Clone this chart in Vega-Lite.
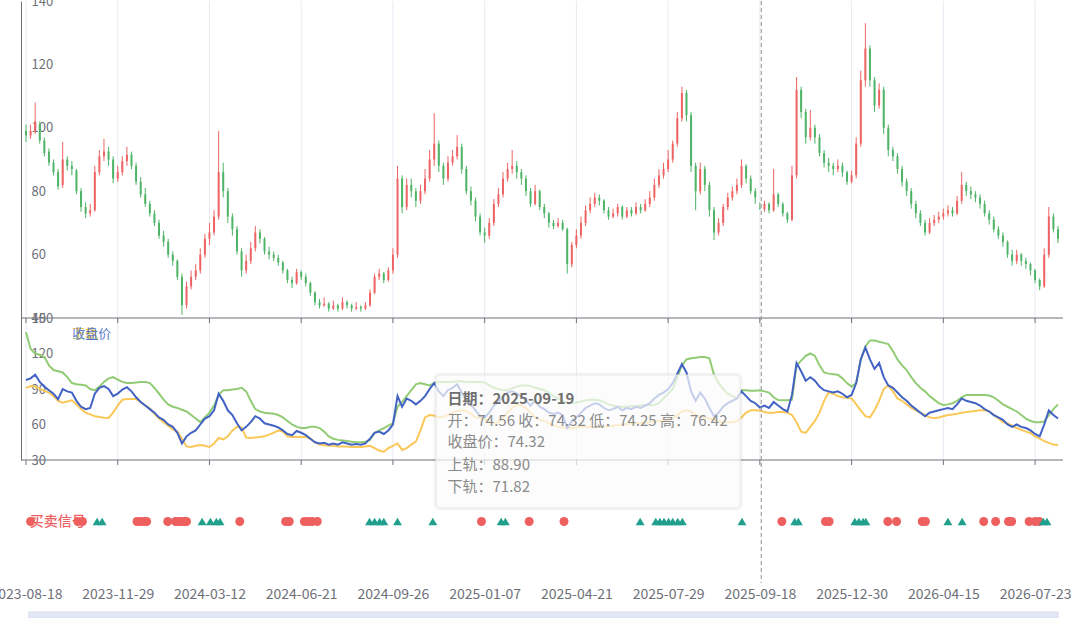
{
  "$schema": "https://vega.github.io/schema/vega-lite/v6.json",
  "description": "K线 + 通道 + 买卖信号",
  "autosize": {"type": "none"},
  "padding": {"left": 21, "top": 1, "right": 17, "bottom": 0},
  "width": 1042,
  "height": 617,
  "background": "white",
  "config": {
    "view": {"stroke": null},
    "font": "Noto Sans CJK SC",
    "axis": {
      "labelFont": "Noto Sans CJK SC",
      "labelFontSize": 13,
      "labelColor": "#6e7079",
      "domainColor": "#6e7079",
      "tickColor": "#6e7079",
      "title": null
    }
  },
  "datasets": {
    "ticks": [{"i":0},{"i":20},{"i":40},{"i":60},{"i":80},{"i":100},{"i":120},{"i":140},{"i":160},{"i":180},{"i":200},{"i":220}],
    "k": [
      {"i":0,"o":99,"h":101,"l":95.5,"c":97.6,"up":138,"dn":91},
      {"i":1,"o":97.6,"h":101,"l":96.5,"c":99,"up":124,"dn":92.5},
      {"i":2,"o":99,"h":108,"l":98,"c":102,"up":120,"dn":92},
      {"i":3,"o":101,"h":102,"l":95,"c":96,"up":119,"dn":90},
      {"i":4,"o":96,"h":97,"l":91,"c":92,"up":117,"dn":88.5},
      {"i":5,"o":92.5,"h":93.5,"l":88,"c":89,"up":110,"dn":87},
      {"i":6,"o":89,"h":90,"l":85,"c":86,"up":106,"dn":84},
      {"i":7,"o":86,"h":87,"l":80.5,"c":81.5,"up":105,"dn":80},
      {"i":8,"o":82,"h":95.5,"l":81,"c":90,"up":104,"dn":78.5},
      {"i":9,"o":90,"h":91,"l":86.5,"c":88,"up":100,"dn":79.5},
      {"i":10,"o":88,"h":89.5,"l":85,"c":87,"up":95,"dn":80.5},
      {"i":11,"o":86.5,"h":87,"l":79,"c":80,"up":94,"dn":77},
      {"i":12,"o":80,"h":81,"l":73.5,"c":75,"up":93.5,"dn":73},
      {"i":13,"o":75,"h":76.5,"l":71.5,"c":73,"up":93,"dn":70},
      {"i":14,"o":73,"h":76,"l":72,"c":74,"up":90,"dn":68.5},
      {"i":15,"o":74,"h":88,"l":73.5,"c":86,"up":89,"dn":67},
      {"i":16,"o":86,"h":93,"l":85,"c":91,"up":92,"dn":66.3},
      {"i":17,"o":91,"h":96.5,"l":89.5,"c":92.5,"up":96,"dn":65.8},
      {"i":18,"o":92.5,"h":94,"l":88,"c":90,"up":99,"dn":65.5},
      {"i":19,"o":90,"h":91,"l":82.5,"c":84,"up":100,"dn":70},
      {"i":20,"o":84,"h":88,"l":83,"c":86,"up":98,"dn":76},
      {"i":21,"o":86,"h":91,"l":85,"c":89.5,"up":96,"dn":81},
      {"i":22,"o":89.5,"h":94,"l":88,"c":91.5,"up":95,"dn":81.5},
      {"i":23,"o":91.5,"h":92.5,"l":87,"c":88,"up":95,"dn":81.5},
      {"i":24,"o":88,"h":89,"l":82,"c":83,"up":95.5,"dn":81.5},
      {"i":25,"o":83,"h":84.5,"l":78,"c":79,"up":96,"dn":79},
      {"i":26,"o":79,"h":81,"l":75,"c":76,"up":96,"dn":76},
      {"i":27,"o":76,"h":77,"l":72,"c":73,"up":95,"dn":73.5},
      {"i":28,"o":73,"h":74,"l":69,"c":70,"up":91,"dn":69},
      {"i":29,"o":70,"h":71,"l":65,"c":66,"up":86,"dn":65},
      {"i":30,"o":66,"h":67.5,"l":62.5,"c":64,"up":81,"dn":62},
      {"i":31,"o":64,"h":65,"l":59,"c":60,"up":77,"dn":59},
      {"i":32,"o":60,"h":61,"l":56.5,"c":58,"up":75,"dn":56},
      {"i":33,"o":58,"h":58.5,"l":52,"c":53,"up":74,"dn":54},
      {"i":34,"o":53,"h":54,"l":41,"c":44,"up":72.5,"dn":48},
      {"i":35,"o":44,"h":51.5,"l":43,"c":50,"up":71,"dn":41.5},
      {"i":36,"o":50,"h":55,"l":49,"c":53,"up":68,"dn":41},
      {"i":37,"o":53,"h":57,"l":52,"c":55,"up":65,"dn":42},
      {"i":38,"o":55,"h":62,"l":54,"c":60,"up":62,"dn":42.7},
      {"i":39,"o":60,"h":66.5,"l":59,"c":65,"up":66,"dn":42},
      {"i":40,"o":65,"h":70,"l":63,"c":67,"up":70,"dn":41},
      {"i":41,"o":67,"h":74,"l":66,"c":72,"up":76,"dn":44},
      {"i":42,"o":72,"h":99,"l":71,"c":86,"up":85,"dn":48.6},
      {"i":43,"o":86,"h":89,"l":78,"c":80,"up":89,"dn":47.5},
      {"i":44,"o":80,"h":81,"l":70,"c":72,"up":89,"dn":50},
      {"i":45,"o":72,"h":73,"l":66,"c":68,"up":89.5,"dn":55},
      {"i":46,"o":68,"h":69,"l":60,"c":61,"up":90,"dn":58},
      {"i":47,"o":61,"h":62,"l":53,"c":55,"up":91,"dn":57.5},
      {"i":48,"o":55,"h":60,"l":54,"c":58,"up":88,"dn":49},
      {"i":49,"o":58,"h":64,"l":57,"c":62,"up":80,"dn":48.5},
      {"i":50,"o":62,"h":69,"l":61,"c":67,"up":73,"dn":49},
      {"i":51,"o":67,"h":68,"l":63.5,"c":65,"up":71,"dn":49.5},
      {"i":52,"o":65,"h":65.5,"l":60,"c":61,"up":70,"dn":50},
      {"i":53,"o":61,"h":62.5,"l":58.5,"c":60,"up":69.5,"dn":51.5},
      {"i":54,"o":60,"h":61,"l":58,"c":59,"up":69,"dn":53},
      {"i":55,"o":59,"h":60,"l":56.5,"c":57.5,"up":68,"dn":55},
      {"i":56,"o":57.5,"h":58,"l":54,"c":55,"up":66,"dn":54},
      {"i":57,"o":55,"h":55.5,"l":51,"c":52,"up":63,"dn":50},
      {"i":58,"o":52,"h":53,"l":49.5,"c":51,"up":60,"dn":49.5},
      {"i":59,"o":51,"h":55.5,"l":50.5,"c":54.5,"up":58,"dn":49.5},
      {"i":60,"o":54.5,"h":55,"l":52,"c":53,"up":57,"dn":49.5},
      {"i":61,"o":53,"h":54,"l":50,"c":51,"up":57,"dn":49.5},
      {"i":62,"o":51,"h":51.5,"l":47,"c":48,"up":58,"dn":48},
      {"i":63,"o":48,"h":48.5,"l":44,"c":45,"up":58,"dn":45},
      {"i":64,"o":45,"h":46,"l":43,"c":44,"up":57,"dn":43},
      {"i":65,"o":44,"h":46.5,"l":43.5,"c":44.5,"up":54,"dn":42.5},
      {"i":66,"o":44.5,"h":45,"l":42,"c":43,"up":50,"dn":42},
      {"i":67,"o":43,"h":45.5,"l":42.5,"c":44,"up":48,"dn":42},
      {"i":68,"o":44,"h":44.5,"l":42,"c":43,"up":47,"dn":41.5},
      {"i":69,"o":43,"h":46.5,"l":42.5,"c":45,"up":46.5,"dn":41.5},
      {"i":70,"o":45,"h":45.5,"l":43,"c":44,"up":46,"dn":41.5},
      {"i":71,"o":44,"h":44.5,"l":42,"c":43,"up":45.5,"dn":41},
      {"i":72,"o":43,"h":45,"l":42.5,"c":43.5,"up":45,"dn":41},
      {"i":73,"o":43.5,"h":44,"l":42,"c":43,"up":45,"dn":41},
      {"i":74,"o":43,"h":45,"l":42.5,"c":44,"up":45.5,"dn":41.5},
      {"i":75,"o":44,"h":49,"l":43.5,"c":48,"up":47,"dn":42},
      {"i":76,"o":48,"h":54,"l":47.5,"c":53,"up":53,"dn":40},
      {"i":77,"o":53,"h":55.5,"l":52,"c":54,"up":55,"dn":38},
      {"i":78,"o":54,"h":54.5,"l":51,"c":52,"up":57,"dn":37},
      {"i":79,"o":52,"h":56,"l":51.5,"c":55,"up":59,"dn":40},
      {"i":80,"o":55,"h":62,"l":54,"c":60,"up":61,"dn":42},
      {"i":81,"o":60,"h":88,"l":59,"c":84,"up":75,"dn":44},
      {"i":82,"o":84,"h":85,"l":73,"c":75,"up":79,"dn":38.5},
      {"i":83,"o":75,"h":84,"l":74,"c":82,"up":84,"dn":40},
      {"i":84,"o":82,"h":84,"l":78,"c":80,"up":89,"dn":43},
      {"i":85,"o":80,"h":81,"l":75,"c":77,"up":94,"dn":45.5},
      {"i":86,"o":77,"h":82,"l":76,"c":80,"up":95,"dn":55},
      {"i":87,"o":80,"h":87,"l":79,"c":84,"up":94,"dn":66},
      {"i":88,"o":84,"h":93,"l":83,"c":90,"up":93,"dn":68},
      {"i":89,"o":90,"h":104.6,"l":88,"c":95,"up":95,"dn":67.5},
      {"i":90,"o":95,"h":96,"l":86,"c":88,"up":96,"dn":66},
      {"i":91,"o":88,"h":89,"l":82,"c":84,"up":96,"dn":66.5},
      {"i":92,"o":84,"h":91,"l":83,"c":89,"up":96,"dn":68},
      {"i":93,"o":89,"h":93,"l":88,"c":91,"up":96,"dn":70},
      {"i":94,"o":91,"h":97.7,"l":90,"c":94,"up":96.5,"dn":71.5},
      {"i":95,"o":94,"h":95,"l":85.5,"c":87,"up":96.5,"dn":72},
      {"i":96,"o":87,"h":88,"l":79,"c":80,"up":96,"dn":71.5},
      {"i":97,"o":80,"h":81.5,"l":75.5,"c":77,"up":96,"dn":69},
      {"i":98,"o":77,"h":78,"l":70.5,"c":72,"up":96,"dn":66},
      {"i":99,"o":72,"h":73,"l":66,"c":67,"up":96,"dn":65.5},
      {"i":100,"o":67,"h":68.5,"l":63.7,"c":66,"up":95.5,"dn":64},
      {"i":101,"o":66,"h":71.5,"l":65,"c":70,"up":93,"dn":62.5},
      {"i":102,"o":70,"h":77.5,"l":69,"c":76,"up":91,"dn":61},
      {"i":103,"o":76,"h":81,"l":75,"c":79,"up":90,"dn":62},
      {"i":104,"o":79,"h":86,"l":78,"c":84,"up":89,"dn":66},
      {"i":105,"o":84,"h":89,"l":83,"c":87,"up":89,"dn":70},
      {"i":106,"o":87,"h":93,"l":85.5,"c":88,"up":90.5,"dn":74},
      {"i":107,"o":88,"h":89.5,"l":84,"c":86,"up":92,"dn":76.5},
      {"i":108,"o":86,"h":87,"l":82,"c":84,"up":93,"dn":76},
      {"i":109,"o":84,"h":85,"l":78.5,"c":80,"up":93,"dn":74},
      {"i":110,"o":80,"h":81,"l":75,"c":76,"up":92.5,"dn":70},
      {"i":111,"o":76,"h":82,"l":75.5,"c":80,"up":91,"dn":66},
      {"i":112,"o":80,"h":80.5,"l":74,"c":75,"up":90,"dn":64},
      {"i":113,"o":75,"h":76,"l":71.5,"c":73,"up":89,"dn":63},
      {"i":114,"o":73,"h":73.5,"l":68.5,"c":70,"up":87,"dn":61},
      {"i":115,"o":70,"h":71,"l":68,"c":69,"up":84,"dn":59.5},
      {"i":116,"o":69,"h":71.5,"l":68.5,"c":70,"up":82,"dn":58},
      {"i":117,"o":70,"h":71,"l":67.5,"c":68,"up":80,"dn":57.5},
      {"i":118,"o":68,"h":68.5,"l":54,"c":57,"up":78,"dn":57},
      {"i":119,"o":57,"h":64,"l":56,"c":63,"up":78,"dn":57},
      {"i":120,"o":63,"h":68,"l":62,"c":66,"up":78.5,"dn":57.5},
      {"i":121,"o":66,"h":72,"l":65,"c":70,"up":79.5,"dn":58},
      {"i":122,"o":70,"h":75.5,"l":69,"c":74,"up":80.5,"dn":58},
      {"i":123,"o":74,"h":78,"l":73,"c":76,"up":81,"dn":58},
      {"i":124,"o":76,"h":79.5,"l":75,"c":78,"up":81,"dn":58},
      {"i":125,"o":78,"h":79,"l":75.5,"c":77,"up":80.5,"dn":58},
      {"i":126,"o":77,"h":77.5,"l":73,"c":74,"up":79,"dn":58},
      {"i":127,"o":74,"h":75,"l":71,"c":72,"up":77,"dn":58.5},
      {"i":128,"o":72,"h":74.5,"l":71.5,"c":73,"up":76,"dn":59},
      {"i":129,"o":73,"h":76,"l":72,"c":75,"up":75,"dn":59.5},
      {"i":130,"o":75,"h":75.5,"l":71,"c":72,"up":75,"dn":60},
      {"i":131,"o":72,"h":75,"l":71.5,"c":74,"up":75,"dn":60.5},
      {"i":132,"o":74,"h":75,"l":72,"c":73,"up":75.5,"dn":61},
      {"i":133,"o":73,"h":76.5,"l":72.5,"c":75,"up":75.5,"dn":61},
      {"i":134,"o":75,"h":76,"l":73,"c":74,"up":76,"dn":61},
      {"i":135,"o":74,"h":77.5,"l":73.5,"c":76,"up":76.5,"dn":61.5},
      {"i":136,"o":76,"h":80,"l":75,"c":78,"up":76.5,"dn":62},
      {"i":137,"o":78,"h":84,"l":77,"c":82,"up":76.5,"dn":62.5},
      {"i":138,"o":82,"h":87,"l":81,"c":85,"up":78,"dn":63},
      {"i":139,"o":85,"h":89,"l":84,"c":87,"up":82,"dn":63.5},
      {"i":140,"o":87,"h":93,"l":86,"c":90,"up":86,"dn":64},
      {"i":141,"o":90,"h":96,"l":89,"c":95,"up":90,"dn":65},
      {"i":142,"o":95,"h":105,"l":94,"c":103,"up":100,"dn":68},
      {"i":143,"o":103,"h":113,"l":102,"c":111,"up":110,"dn":71},
      {"i":144,"o":111,"h":112,"l":102,"c":104,"up":115,"dn":72},
      {"i":145,"o":104,"h":105,"l":86,"c":88,"up":116,"dn":71},
      {"i":146,"o":88,"h":89,"l":74,"c":80,"up":116.5,"dn":68},
      {"i":147,"o":80,"h":89,"l":79,"c":87,"up":117,"dn":66.5},
      {"i":148,"o":87,"h":88,"l":80,"c":82,"up":117,"dn":65.5},
      {"i":149,"o":82,"h":83,"l":72,"c":74,"up":116,"dn":65},
      {"i":150,"o":74,"h":75,"l":64.6,"c":67,"up":102,"dn":64},
      {"i":151,"o":67,"h":71.5,"l":66,"c":70,"up":95,"dn":63},
      {"i":152,"o":70,"h":76,"l":69,"c":75,"up":90,"dn":62},
      {"i":153,"o":75,"h":79.5,"l":74,"c":78,"up":86,"dn":62},
      {"i":154,"o":78,"h":81.5,"l":77,"c":80,"up":84,"dn":62},
      {"i":155,"o":80,"h":84,"l":79,"c":82,"up":82,"dn":63},
      {"i":156,"o":82,"h":90,"l":81,"c":88,"up":89,"dn":66},
      {"i":157,"o":88,"h":88.5,"l":82.5,"c":84,"up":89,"dn":70},
      {"i":158,"o":84,"h":85,"l":79,"c":80,"up":88.5,"dn":72},
      {"i":159,"o":80,"h":81,"l":76,"c":78,"up":88.5,"dn":72},
      {"i":160,"o":74.56,"h":76.42,"l":74.25,"c":74.32,"up":88.9,"dn":71.82},
      {"i":161,"o":74.3,"h":77,"l":73.5,"c":76,"up":88,"dn":70.5},
      {"i":162,"o":76,"h":76.5,"l":73,"c":74,"up":87,"dn":70},
      {"i":163,"o":74,"h":87,"l":73.5,"c":79,"up":83,"dn":70},
      {"i":164,"o":79,"h":79.5,"l":75,"c":76,"up":80.7,"dn":70.5},
      {"i":165,"o":76,"h":76.5,"l":72,"c":73,"up":80.5,"dn":70.5},
      {"i":166,"o":73,"h":73.5,"l":70,"c":71,"up":80.5,"dn":70},
      {"i":167,"o":71,"h":88,"l":70.5,"c":85,"up":81,"dn":68},
      {"i":168,"o":85,"h":116,"l":84,"c":112,"up":110,"dn":62},
      {"i":169,"o":112,"h":113,"l":103,"c":105,"up":114,"dn":54},
      {"i":170,"o":105,"h":106,"l":95,"c":97,"up":118,"dn":53},
      {"i":171,"o":97,"h":105.6,"l":96,"c":100,"up":120,"dn":58},
      {"i":172,"o":100,"h":101,"l":95,"c":97,"up":118,"dn":63},
      {"i":173,"o":97,"h":98,"l":91,"c":92,"up":110,"dn":70},
      {"i":174,"o":92,"h":93,"l":87.5,"c":89,"up":104,"dn":80},
      {"i":175,"o":89,"h":90.5,"l":86,"c":88,"up":103,"dn":87.5},
      {"i":176,"o":88,"h":89,"l":85,"c":87,"up":102.5,"dn":86},
      {"i":177,"o":87,"h":90,"l":86,"c":88,"up":102,"dn":84},
      {"i":178,"o":88,"h":89,"l":84.5,"c":86,"up":99,"dn":83},
      {"i":179,"o":86,"h":86.5,"l":82,"c":83,"up":95,"dn":82.5},
      {"i":180,"o":83,"h":86.5,"l":82.5,"c":85,"up":92,"dn":82},
      {"i":181,"o":85,"h":97,"l":84,"c":95,"up":95,"dn":77},
      {"i":182,"o":95,"h":118,"l":94,"c":115,"up":115,"dn":72},
      {"i":183,"o":115,"h":133,"l":113,"c":125,"up":126,"dn":67},
      {"i":184,"o":125,"h":126,"l":113,"c":115,"up":131,"dn":66},
      {"i":185,"o":115,"h":116,"l":105,"c":107,"up":131,"dn":72},
      {"i":186,"o":107,"h":114,"l":106,"c":112,"up":130,"dn":80},
      {"i":187,"o":112,"h":113,"l":98,"c":100,"up":129,"dn":90},
      {"i":188,"o":100,"h":101,"l":91,"c":93,"up":128,"dn":93},
      {"i":189,"o":93,"h":94,"l":89.5,"c":91,"up":122,"dn":88},
      {"i":190,"o":91,"h":92,"l":85.5,"c":87,"up":115,"dn":82},
      {"i":191,"o":87,"h":88,"l":81.5,"c":83,"up":110,"dn":80},
      {"i":192,"o":83,"h":84,"l":78.5,"c":80,"up":106,"dn":77},
      {"i":193,"o":80,"h":81,"l":74.5,"c":76,"up":100,"dn":74},
      {"i":194,"o":76,"h":77,"l":71.5,"c":73,"up":95,"dn":72},
      {"i":195,"o":73,"h":74,"l":69,"c":70,"up":91,"dn":70},
      {"i":196,"o":70,"h":71,"l":66,"c":67,"up":88,"dn":68},
      {"i":197,"o":67,"h":71.5,"l":66.5,"c":70,"up":84,"dn":66},
      {"i":198,"o":70,"h":72.5,"l":69,"c":71,"up":81,"dn":65.5},
      {"i":199,"o":71,"h":73.5,"l":70,"c":72,"up":78,"dn":66},
      {"i":200,"o":72,"h":74.5,"l":71,"c":73,"up":76.5,"dn":67},
      {"i":201,"o":73,"h":75.5,"l":72,"c":74,"up":77,"dn":68},
      {"i":202,"o":74,"h":75,"l":72,"c":73,"up":78,"dn":68.5},
      {"i":203,"o":73,"h":78.5,"l":72.5,"c":77,"up":80,"dn":69},
      {"i":204,"o":77,"h":86,"l":76,"c":82,"up":83,"dn":70},
      {"i":205,"o":82,"h":83,"l":78.5,"c":80,"up":85,"dn":70.5},
      {"i":206,"o":80,"h":81.5,"l":77.5,"c":79,"up":85,"dn":71},
      {"i":207,"o":79,"h":80,"l":76.5,"c":78,"up":85,"dn":71.5},
      {"i":208,"o":78,"h":79,"l":74.5,"c":76,"up":85,"dn":72},
      {"i":209,"o":76,"h":77,"l":72,"c":73,"up":85,"dn":72},
      {"i":210,"o":73,"h":74,"l":69.5,"c":71,"up":84.5,"dn":71},
      {"i":211,"o":71,"h":72,"l":67,"c":68,"up":83,"dn":68},
      {"i":212,"o":68,"h":69,"l":65,"c":66,"up":80,"dn":65},
      {"i":213,"o":66,"h":67,"l":62.5,"c":64,"up":77,"dn":62},
      {"i":214,"o":64,"h":64.5,"l":59,"c":60,"up":75,"dn":61},
      {"i":215,"o":60,"h":61.5,"l":56.5,"c":58,"up":73,"dn":59},
      {"i":216,"o":58,"h":61.5,"l":57,"c":60,"up":71,"dn":57},
      {"i":217,"o":60,"h":60.5,"l":56.5,"c":58,"up":68,"dn":55.5},
      {"i":218,"o":58,"h":59,"l":55.5,"c":57,"up":65,"dn":54},
      {"i":219,"o":57,"h":57.5,"l":53.5,"c":55,"up":63,"dn":52.8},
      {"i":220,"o":55,"h":55.5,"l":51,"c":52,"up":62,"dn":50},
      {"i":221,"o":52,"h":52.5,"l":48.8,"c":50,"up":62,"dn":48},
      {"i":222,"o":50,"h":62,"l":49.5,"c":60,"up":62.5,"dn":46},
      {"i":223,"o":60,"h":75,"l":59,"c":72,"up":68,"dn":44.5},
      {"i":224,"o":72,"h":73,"l":67,"c":68,"up":73,"dn":43},
      {"i":225,"o":68,"h":69,"l":63.6,"c":65,"up":77,"dn":42.7}
    ],
    "sig": [
      {"i":11.3,"s":"卖"},{"i":12.3,"s":"卖"},
      {"i":15.5,"s":"买"},{"i":16.6,"s":"买"},
      {"i":24.2,"s":"卖"},{"i":25.0,"s":"卖"},{"i":25.7,"s":"卖"},{"i":26.3,"s":"卖"},
      {"i":30.9,"s":"卖"},
      {"i":32.6,"s":"卖"},{"i":33.3,"s":"卖"},{"i":33.9,"s":"卖"},{"i":34.5,"s":"卖"},{"i":35.0,"s":"卖"},
      {"i":38.4,"s":"买"},{"i":40.2,"s":"买"},{"i":41.5,"s":"买"},{"i":42.3,"s":"买"},
      {"i":46.6,"s":"卖"},
      {"i":56.6,"s":"卖"},{"i":57.4,"s":"卖"},
      {"i":60.7,"s":"卖"},{"i":61.5,"s":"卖"},{"i":62.4,"s":"卖"},{"i":63.5,"s":"卖"},
      {"i":74.9,"s":"买"},{"i":76.0,"s":"买"},{"i":77.1,"s":"买"},{"i":78.0,"s":"买"},
      {"i":81.0,"s":"买"},
      {"i":88.7,"s":"买"},
      {"i":99.3,"s":"卖"},
      {"i":103.6,"s":"买"},{"i":104.5,"s":"买"},
      {"i":109.7,"s":"卖"},
      {"i":117.3,"s":"卖"},
      {"i":133.9,"s":"买"},
      {"i":137.3,"s":"买"},{"i":138.2,"s":"买"},{"i":139.1,"s":"买"},{"i":140.1,"s":"买"},{"i":141.0,"s":"买"},{"i":142.1,"s":"买"},{"i":143.1,"s":"买"},
      {"i":156.1,"s":"买"},
      {"i":164.8,"s":"卖"},
      {"i":167.6,"s":"买"},{"i":168.4,"s":"买"},
      {"i":174.3,"s":"卖"},{"i":175.1,"s":"卖"},
      {"i":180.7,"s":"买"},{"i":181.6,"s":"买"},{"i":182.5,"s":"买"},{"i":183.1,"s":"买"},
      {"i":187.9,"s":"卖"},{"i":189.8,"s":"卖"},
      {"i":195.4,"s":"卖"},{"i":196.1,"s":"卖"},
      {"i":201.0,"s":"买"},
      {"i":204.1,"s":"买"},
      {"i":208.8,"s":"卖"},{"i":211.4,"s":"卖"},
      {"i":214.2,"s":"卖"},{"i":214.9,"s":"卖"},
      {"i":218.7,"s":"卖"},{"i":220.0,"s":"卖"},{"i":220.9,"s":"卖"},
      {"i":221.8,"s":"买"},{"i":222.6,"s":"买"}
    ]
  },
  "resolve": {"scale": {"y": "independent", "color": "independent", "shape": "independent"}},
  "layer": [
    {
      "data": {"name": "ticks"},
      "mark": {"type": "rule", "color": "#e6eaf2", "strokeWidth": 1},
      "encoding": {
        "x": {"field": "i", "type": "quantitative", "title": null,
          "scale": {"domain": [0, 225], "nice": false, "zero": false},
          "axis": {"values": [0,20,40,60,80,100,120,140,160,180,200,220],
            "labelExpr": "['2023-08-18','2023-11-29','2024-03-12','2024-06-21','2024-09-26','2025-01-07','2025-04-21','2025-07-29','2025-09-18','2025-12-30','2026-04-15','2026-07-23'][round(datum.value / 20)]",
            "orient": "bottom", "offset": -35, "domain": false, "ticks": false, "tickSize": 0, "grid": false,
            "labelFontSize": 14, "labelPadding": 4, "labelFlush": false, "labelOverlap": false, "labelBound": false, "title": null}},
        "y": {"datum": 40, "type": "quantitative", "title": null, "axis": null,
          "scale": {"domain": [40, 140], "range": [317, 0], "nice": false, "zero": false}},
        "y2": {"datum": 140}
      }
    },
    {
      "data": {"name": "ticks"},
      "mark": {"type": "rule", "color": "#e6eaf2", "strokeWidth": 1},
      "encoding": {
        "x": {"field": "i", "type": "quantitative", "title": null},
        "y": {"datum": 30, "type": "quantitative", "title": null, "axis": null,
          "scale": {"domain": [30, 150], "range": [459, 317], "nice": false, "zero": false}},
        "y2": {"datum": 150}
      }
    },
    {
      "data": {"name": "k"},
      "mark": {"type": "rule", "strokeWidth": 1},
      "encoding": {
        "x": {"field": "i", "type": "quantitative", "title": null},
        "y": {"field": "l", "type": "quantitative", "title": null,
          "scale": {"domain": [40, 140], "range": [317, 0], "nice": false, "zero": false},
          "axis": {"orient": "left", "values": [40,60,80,100,120,140], "labelAlign": "left", "labelBaseline": "middle", "labelPadding": -10, "ticks": false, "tickSize": 0, "grid": false, "domain": true, "title": null}},
        "y2": {"field": "h"},
        "color": {"condition": {"test": "datum.c >= datum.o", "value": "#ee6464"}, "value": "#4fb467"}
      }
    },
    {
      "data": {"name": "k"},
      "mark": {"type": "bar", "size": 2},
      "encoding": {
        "x": {"field": "i", "type": "quantitative", "title": null},
        "y": {"field": "o", "type": "quantitative", "title": null, "axis": null,
          "scale": {"domain": [40, 140], "range": [317, 0], "nice": false, "zero": false}},
        "y2": {"field": "c"},
        "color": {"condition": {"test": "datum.c >= datum.o", "value": "#ee6464"}, "value": "#4fb467"}
      }
    },
    {
      "data": {"name": "ticks"},
      "mark": {"type": "rule", "color": "#6e7079", "strokeWidth": 1},
      "encoding": {
        "x": {"field": "i", "type": "quantitative", "title": null},
        "y": {"datum": 40, "type": "quantitative", "title": null, "axis": null,
          "scale": {"domain": [40, 140], "range": [317, 0], "nice": false, "zero": false}},
        "y2": {"datum": 38.4}
      }
    },
    {
      "data": {"values": [{"v": 40}]},
      "mark": {"type": "rule", "color": "#6e7079", "strokeWidth": 1},
      "encoding": {
        "y": {"field": "v", "type": "quantitative", "title": null, "axis": null,
          "scale": {"domain": [40, 140], "range": [317, 0], "nice": false, "zero": false}}
      }
    },
    {
      "data": {"name": "ticks"},
      "mark": {"type": "rule", "color": "#6e7079", "strokeWidth": 1},
      "encoding": {
        "x": {"field": "i", "type": "quantitative", "title": null},
        "y": {"datum": 30, "type": "quantitative", "title": null, "axis": null,
          "scale": {"domain": [30, 150], "range": [459, 317], "nice": false, "zero": false}},
        "y2": {"datum": 25.8}
      }
    },
    {
      "data": {"values": [{"v": 30}]},
      "mark": {"type": "rule", "color": "#6e7079", "strokeWidth": 1},
      "encoding": {
        "y": {"field": "v", "type": "quantitative", "title": null, "axis": null,
          "scale": {"domain": [30, 150], "range": [459, 317], "nice": false, "zero": false}}
      }
    },
    {
      "data": {"name": "k"},
      "mark": {"type": "line", "color": "#91cc75", "strokeWidth": 2},
      "encoding": {
        "x": {"field": "i", "type": "quantitative", "title": null},
        "y": {"field": "up", "type": "quantitative", "title": null,
          "scale": {"domain": [30, 150], "range": [459, 317], "nice": false, "zero": false},
          "axis": {"orient": "left", "values": [30,60,90,120,150], "labelAlign": "left", "labelBaseline": "middle", "labelPadding": -10, "ticks": false, "tickSize": 0, "grid": false, "domain": true, "title": null}}
      }
    },
    {
      "data": {"name": "k"},
      "mark": {"type": "line", "color": "#fac858", "strokeWidth": 2},
      "encoding": {
        "x": {"field": "i", "type": "quantitative", "title": null},
        "y": {"field": "dn", "type": "quantitative", "title": null, "axis": null,
          "scale": {"domain": [30, 150], "range": [459, 317], "nice": false, "zero": false}}
      }
    },
    {
      "data": {"name": "k"},
      "mark": {"type": "line", "color": "#4262c4", "strokeWidth": 2},
      "encoding": {
        "x": {"field": "i", "type": "quantitative", "title": null},
        "y": {"field": "c", "type": "quantitative", "title": null, "axis": null,
          "scale": {"domain": [30, 150], "range": [459, 317], "nice": false, "zero": false}}
      }
    },
    {
      "data": {"values": [
        {"i": 10.1, "v": 136.5, "t": "上轨", "g": "上轨"},
        {"i": 10.1, "v": 136.5, "t": "下轨", "g": "下轨"},
        {"i": 10.1, "v": 136.5, "t": "收盘价", "g": "收盘价"}
      ]},
      "mark": {"type": "text", "align": "left", "baseline": "middle", "fontSize": 13, "opacity": 0.85},
      "encoding": {
        "x": {"field": "i", "type": "quantitative", "title": null},
        "y": {"field": "v", "type": "quantitative", "title": null, "axis": null,
          "scale": {"domain": [30, 150], "range": [459, 317], "nice": false, "zero": false}},
        "text": {"field": "t"},
        "color": {"field": "g", "type": "nominal", "legend": null,
          "scale": {"domain": ["收盘价", "上轨", "下轨"], "range": ["#4262c4", "#91cc75", "#f2bd3c"]}}
      }
    },
    {
      "data": {"values": [{"i": 160.3}]},
      "mark": {"type": "rule", "color": "#8f8f8f", "strokeDash": [4, 3], "strokeWidth": 1},
      "encoding": {
        "x": {"field": "i", "type": "quantitative", "title": null},
        "y": {"datum": 140, "type": "quantitative", "title": null, "axis": null,
          "scale": {"domain": [40, 140], "range": [317, 0], "nice": false, "zero": false}},
        "y2": {"datum": -43.6}
      }
    },
    {
      "data": {"values": [{"i": 88.8, "i2": 156.3, "v": 103.8, "v2": -12.5}]},
      "mark": {"type": "rect", "fill": "#000000", "opacity": 0.045, "cornerRadius": 7},
      "encoding": {
        "x": {"field": "i", "type": "quantitative", "title": null},
        "x2": {"field": "i2"},
        "y": {"field": "v", "type": "quantitative", "title": null, "axis": null,
          "scale": {"domain": [30, 150], "range": [459, 317], "nice": false, "zero": false}},
        "y2": {"field": "v2"}
      }
    },
    {
      "data": {"values": [{"i": 89.4, "i2": 155.7, "v": 101.8, "v2": -10.6}]},
      "mark": {"type": "rect", "fill": "#ffffff", "fillOpacity": 0.7, "stroke": "#e8e8e8", "strokeWidth": 1, "cornerRadius": 4},
      "encoding": {
        "x": {"field": "i", "type": "quantitative", "title": null},
        "x2": {"field": "i2"},
        "y": {"field": "v", "type": "quantitative", "title": null, "axis": null,
          "scale": {"domain": [30, 150], "range": [459, 317], "nice": false, "zero": false}},
        "y2": {"field": "v2"}
      }
    },
    {
      "data": {"values": [{"i": 91.9, "v": 81.5, "t": "日期：2025-09-19"}]},
      "mark": {"type": "text", "align": "left", "baseline": "middle", "fontSize": 15, "fontWeight": "bold", "color": "#707070"},
      "encoding": {
        "x": {"field": "i", "type": "quantitative", "title": null},
        "y": {"field": "v", "type": "quantitative", "title": null, "axis": null,
          "scale": {"domain": [30, 150], "range": [459, 317], "nice": false, "zero": false}},
        "text": {"field": "t"}
      }
    },
    {
      "data": {"values": [
        {"i": 91.9, "v": 63.3, "t": "开：74.56 收：74.32 低：74.25 高：76.42"},
        {"i": 91.9, "v": 45.1, "t": "收盘价：74.32"},
        {"i": 91.9, "v": 25.8, "t": "上轨：88.90"},
        {"i": 91.9, "v": 7.4, "t": "下轨：71.82"}
      ]},
      "mark": {"type": "text", "align": "left", "baseline": "middle", "fontSize": 15, "color": "#8a8a8a"},
      "encoding": {
        "x": {"field": "i", "type": "quantitative", "title": null},
        "y": {"field": "v", "type": "quantitative", "title": null, "axis": null,
          "scale": {"domain": [30, 150], "range": [459, 317], "nice": false, "zero": false}},
        "text": {"field": "t"}
      }
    },
    {
      "data": {"values": [{"i": 1.0, "v": 0}]},
      "mark": {"type": "circle", "color": "#ee5f5f", "opacity": 1, "size": 80},
      "encoding": {
        "x": {"field": "i", "type": "quantitative", "title": null},
        "y": {"field": "v", "type": "quantitative", "title": null, "axis": null,
          "scale": {"domain": [-1, 1], "range": [582, 459], "nice": false, "zero": false}}
      }
    },
    {
      "data": {"values": [{"i": 0.8, "v": 0, "t": "买卖信号"}]},
      "mark": {"type": "text", "align": "left", "baseline": "middle", "fontSize": 14, "fontWeight": 500, "color": "#ee5f5f"},
      "encoding": {
        "x": {"field": "i", "type": "quantitative", "title": null},
        "y": {"field": "v", "type": "quantitative", "title": null, "axis": null,
          "scale": {"domain": [-1, 1], "range": [582, 459], "nice": false, "zero": false}},
        "text": {"field": "t"}
      }
    },
    {
      "data": {"name": "sig"},
      "mark": {"type": "point", "filled": true, "opacity": 1, "size": 80},
      "encoding": {
        "x": {"field": "i", "type": "quantitative", "title": null},
        "y": {"datum": 0, "type": "quantitative", "title": null, "axis": null,
          "scale": {"domain": [-1, 1], "range": [582, 459], "nice": false, "zero": false}},
        "shape": {"field": "s", "type": "nominal", "legend": null, "scale": {"domain": ["卖", "买"], "range": ["circle", "triangle-up"]}},
        "color": {"field": "s", "type": "nominal", "legend": null, "scale": {"domain": ["卖", "买"], "range": ["#ee5f5f", "#20a08c"]}}
      }
    },
    {
      "data": {"values": [{"i": 0.6, "i2": 225, "v": 0, "v2": 6}]},
      "mark": {"type": "rect", "fill": "#e4e8f6", "stroke": "#d9dfef", "strokeWidth": 1},
      "encoding": {
        "x": {"field": "i", "type": "quantitative", "title": null},
        "x2": {"field": "i2"},
        "y": {"field": "v", "type": "quantitative", "title": null, "axis": null,
          "scale": {"domain": [0, 35], "range": [617, 582], "nice": false, "zero": false}},
        "y2": {"field": "v2"}
      }
    }
  ]
}
